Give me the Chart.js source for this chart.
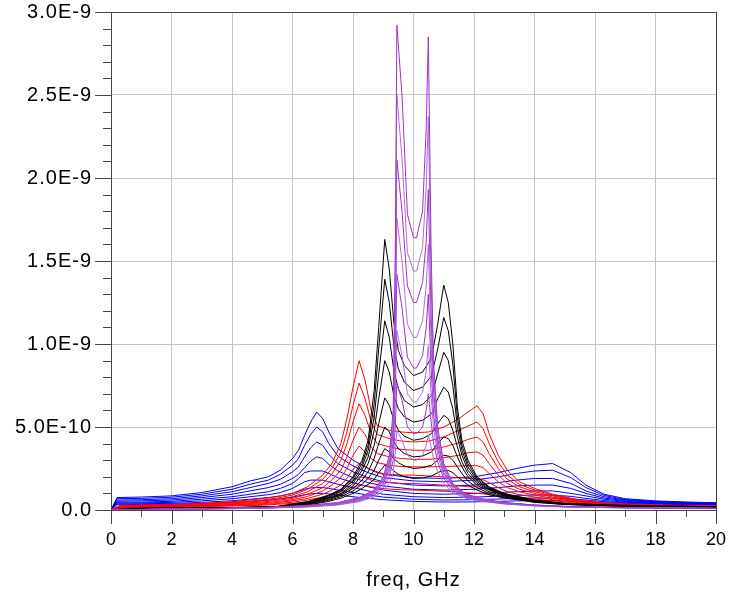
<!DOCTYPE html>
<html>
<head>
<meta charset="utf-8">
<script src="https://cdn.jsdelivr.net/npm/chart.js@4/dist/chart.umd.min.js"></script>
<style>
  html, body { margin: 0; padding: 0; background: #fff; }
</style>
</head>
<body>
<canvas id="chart" width="746" height="599"></canvas>
<script>
// values are in units of 1E-9
const xTickValues = [0, 2, 4, 6, 8, 10, 12, 14, 16, 18, 20];
const xTickLabels = ["0", "2", "4", "6", "8", "10", "12", "14", "16", "18", "20"];
const yTickValues = [0, 0.5, 1, 1.5, 2, 2.5, 3];
const yTickLabels = ["0.0", "5.0E-10", "1.0E-9", "1.5E-9", "2.0E-9", "2.5E-9", "3.0E-9"];
const xTitle = "freq, GHz";

// blue family (peaks near 6.8 and 14.6 GHz)
const blueFreq = [0, 0.2, 1, 2, 3, 4, 4.6, 5.2, 5.6, 6, 6.2, 6.4, 6.6, 6.8, 7.0, 7.2, 7.5, 8, 8.5, 9, 10, 11, 12, 12.8, 13.4, 14, 14.6, 15.2, 15.7, 16.3, 17, 18, 19, 20];
const blue = [
  [0, 0.075, 0.078, 0.085, 0.105, 0.14, 0.175, 0.2, 0.24, 0.31, 0.36, 0.45, 0.53, 0.59, 0.55, 0.47, 0.37, 0.30, 0.25, 0.215, 0.195, 0.19, 0.2, 0.225, 0.25, 0.27, 0.28, 0.225, 0.15, 0.095, 0.068, 0.055, 0.048, 0.044],
  [0, 0.068, 0.07, 0.077, 0.095, 0.125, 0.155, 0.18, 0.215, 0.27, 0.31, 0.39, 0.455, 0.50, 0.47, 0.40, 0.325, 0.265, 0.225, 0.195, 0.175, 0.17, 0.18, 0.2, 0.22, 0.235, 0.24, 0.195, 0.135, 0.088, 0.063, 0.052, 0.046, 0.042],
  [0, 0.06, 0.062, 0.068, 0.085, 0.11, 0.135, 0.16, 0.185, 0.23, 0.26, 0.32, 0.375, 0.41, 0.39, 0.335, 0.28, 0.23, 0.195, 0.17, 0.15, 0.145, 0.15, 0.165, 0.18, 0.19, 0.19, 0.16, 0.115, 0.08, 0.06, 0.05, 0.044, 0.04],
  [0, 0.053, 0.055, 0.06, 0.075, 0.095, 0.115, 0.135, 0.155, 0.19, 0.215, 0.255, 0.295, 0.32, 0.31, 0.275, 0.235, 0.195, 0.165, 0.145, 0.125, 0.12, 0.125, 0.135, 0.145, 0.15, 0.15, 0.13, 0.1, 0.072, 0.056, 0.047, 0.042, 0.039],
  [0, 0.047, 0.048, 0.052, 0.065, 0.08, 0.095, 0.11, 0.13, 0.16, 0.19, 0.225, 0.235, 0.235, 0.235, 0.22, 0.195, 0.165, 0.14, 0.12, 0.1, 0.095, 0.1, 0.105, 0.11, 0.115, 0.115, 0.1, 0.085, 0.065, 0.052, 0.044, 0.04, 0.037],
  [0, 0.042, 0.043, 0.046, 0.055, 0.068, 0.08, 0.092, 0.105, 0.13, 0.15, 0.17, 0.18, 0.18, 0.18, 0.17, 0.155, 0.135, 0.115, 0.095, 0.08, 0.075, 0.078, 0.083, 0.088, 0.09, 0.09, 0.082, 0.07, 0.057, 0.048, 0.041, 0.038, 0.035],
  [0, 0.037, 0.038, 0.04, 0.046, 0.056, 0.065, 0.075, 0.085, 0.1, 0.112, 0.125, 0.133, 0.135, 0.135, 0.13, 0.12, 0.105, 0.09, 0.078, 0.065, 0.06, 0.062, 0.066, 0.07, 0.072, 0.072, 0.067, 0.06, 0.05, 0.044, 0.038, 0.035, 0.033],
  [0, 0.032, 0.033, 0.035, 0.039, 0.046, 0.052, 0.06, 0.067, 0.077, 0.085, 0.092, 0.097, 0.1, 0.1, 0.097, 0.09, 0.08, 0.07, 0.062, 0.052, 0.048, 0.049, 0.052, 0.055, 0.057, 0.057, 0.054, 0.05, 0.044, 0.04, 0.035, 0.033, 0.031]
];

// red family (peaks near 8.2 and 12.1 GHz)
const redFreq = [0, 0.3, 1, 2, 3, 4, 5, 5.5, 6, 6.5, 7, 7.3, 7.6, 7.8, 8.0, 8.2, 8.4, 8.6, 8.8, 9.2, 9.6, 10, 10.5, 11, 11.5, 11.8, 12.1, 12.3, 12.5, 12.8, 13.1, 13.5, 14, 14.6, 15.5, 16.5, 18, 20];
const red = [
  [0, 0.028, 0.03, 0.033, 0.04, 0.05, 0.068, 0.08, 0.1, 0.14, 0.21, 0.28, 0.40, 0.55, 0.74, 0.90, 0.78, 0.60, 0.51, 0.48, 0.47, 0.465, 0.47, 0.5, 0.55, 0.59, 0.628, 0.58, 0.46, 0.33, 0.24, 0.17, 0.13, 0.095, 0.06, 0.04, 0.03, 0.025],
  [0, 0.025, 0.027, 0.03, 0.036, 0.045, 0.06, 0.072, 0.09, 0.125, 0.185, 0.25, 0.35, 0.47, 0.63, 0.765, 0.67, 0.53, 0.455, 0.43, 0.415, 0.41, 0.415, 0.44, 0.48, 0.505, 0.53, 0.49, 0.40, 0.29, 0.21, 0.155, 0.12, 0.09, 0.057, 0.038, 0.029, 0.024],
  [0, 0.022, 0.024, 0.027, 0.033, 0.041, 0.054, 0.065, 0.08, 0.11, 0.16, 0.215, 0.3, 0.4, 0.53, 0.64, 0.57, 0.46, 0.4, 0.38, 0.365, 0.36, 0.36, 0.38, 0.405, 0.425, 0.44, 0.41, 0.34, 0.25, 0.185, 0.14, 0.11, 0.085, 0.054, 0.036, 0.028, 0.023],
  [0, 0.02, 0.022, 0.025, 0.03, 0.037, 0.048, 0.058, 0.07, 0.095, 0.135, 0.18, 0.24, 0.32, 0.42, 0.50, 0.455, 0.38, 0.34, 0.32, 0.31, 0.305, 0.305, 0.315, 0.33, 0.345, 0.35, 0.33, 0.28, 0.21, 0.16, 0.125, 0.1, 0.078, 0.05, 0.034, 0.027, 0.022],
  [0, 0.018, 0.02, 0.023, 0.027, 0.033, 0.043, 0.051, 0.062, 0.082, 0.115, 0.15, 0.195, 0.25, 0.33, 0.385, 0.35, 0.31, 0.285, 0.27, 0.262, 0.26, 0.26, 0.262, 0.265, 0.267, 0.267, 0.255, 0.22, 0.17, 0.135, 0.11, 0.09, 0.07, 0.047, 0.032, 0.026, 0.021],
  [0, 0.016, 0.018, 0.021, 0.025, 0.03, 0.038, 0.045, 0.055, 0.07, 0.095, 0.12, 0.15, 0.19, 0.245, 0.28, 0.265, 0.24, 0.225, 0.215, 0.21, 0.21, 0.205, 0.2, 0.195, 0.19, 0.19, 0.182, 0.165, 0.135, 0.11, 0.092, 0.078, 0.062, 0.043, 0.03, 0.025, 0.02],
  [0, 0.014, 0.016, 0.019, 0.022, 0.027, 0.033, 0.039, 0.047, 0.06, 0.078, 0.095, 0.115, 0.145, 0.18, 0.2, 0.195, 0.18, 0.17, 0.165, 0.16, 0.16, 0.155, 0.15, 0.145, 0.14, 0.14, 0.135, 0.125, 0.105, 0.09, 0.077, 0.066, 0.055, 0.039, 0.028, 0.023, 0.019],
  [0, 0.012, 0.014, 0.017, 0.02, 0.024, 0.029, 0.034, 0.04, 0.05, 0.064, 0.076, 0.09, 0.11, 0.135, 0.15, 0.148, 0.14, 0.132, 0.126, 0.122, 0.12, 0.117, 0.113, 0.108, 0.104, 0.1, 0.098, 0.092, 0.08, 0.07, 0.062, 0.055, 0.047, 0.035, 0.026, 0.021, 0.018]
];

// black family (peaks near 9.0 and 11.0 GHz)
const blackFreq = [0, 0.6, 2, 4, 5.5, 6.5, 7.2, 7.6, 8, 8.3, 8.5, 8.7, 8.85, 9.05, 9.2, 9.35, 9.5, 9.7, 10, 10.3, 10.6, 10.8, 11.0, 11.15, 11.3, 11.45, 11.6, 11.8, 12.1, 12.5, 13, 14, 15, 16.5, 18, 20];
const black = [
  [0, 0.01, 0.012, 0.015, 0.022, 0.05, 0.09, 0.125, 0.2, 0.3, 0.42, 0.72, 1.1, 1.63, 1.45, 1.13, 0.96, 0.87, 0.81, 0.83, 0.92, 1.12, 1.355, 1.25, 1.0, 0.62, 0.42, 0.3, 0.2, 0.14, 0.1, 0.06, 0.04, 0.03, 0.025, 0.02],
  [0, 0.009, 0.011, 0.014, 0.021, 0.047, 0.085, 0.12, 0.19, 0.28, 0.39, 0.64, 0.97, 1.39, 1.25, 0.99, 0.85, 0.77, 0.72, 0.74, 0.81, 0.97, 1.16, 1.08, 0.88, 0.56, 0.39, 0.28, 0.19, 0.135, 0.097, 0.058, 0.039, 0.029, 0.024, 0.019],
  [0, 0.009, 0.011, 0.014, 0.02, 0.044, 0.08, 0.11, 0.175, 0.26, 0.36, 0.56, 0.82, 1.14, 1.04, 0.84, 0.73, 0.66, 0.62, 0.635, 0.69, 0.82, 0.95, 0.9, 0.75, 0.5, 0.36, 0.26, 0.18, 0.13, 0.094, 0.056, 0.038, 0.028, 0.023, 0.019],
  [0, 0.008, 0.01, 0.013, 0.019, 0.041, 0.075, 0.1, 0.16, 0.24, 0.32, 0.48, 0.67, 0.90, 0.83, 0.69, 0.61, 0.56, 0.53, 0.54, 0.58, 0.67, 0.74, 0.71, 0.61, 0.44, 0.33, 0.24, 0.17, 0.125, 0.09, 0.054, 0.037, 0.027, 0.022, 0.018],
  [0, 0.008, 0.01, 0.012, 0.018, 0.038, 0.07, 0.095, 0.145, 0.21, 0.28, 0.39, 0.52, 0.675, 0.63, 0.54, 0.48, 0.445, 0.42, 0.43, 0.46, 0.52, 0.57, 0.55, 0.48, 0.38, 0.29, 0.22, 0.16, 0.12, 0.087, 0.052, 0.036, 0.026, 0.021, 0.018],
  [0, 0.007, 0.009, 0.012, 0.017, 0.035, 0.064, 0.088, 0.13, 0.18, 0.23, 0.31, 0.4, 0.5, 0.47, 0.41, 0.37, 0.34, 0.32, 0.325, 0.35, 0.4, 0.44, 0.43, 0.39, 0.32, 0.26, 0.2, 0.15, 0.11, 0.083, 0.05, 0.035, 0.025, 0.021, 0.017],
  [0, 0.007, 0.009, 0.011, 0.016, 0.032, 0.058, 0.08, 0.115, 0.155, 0.19, 0.24, 0.3, 0.37, 0.35, 0.31, 0.285, 0.265, 0.25, 0.255, 0.27, 0.3, 0.33, 0.325, 0.3, 0.26, 0.22, 0.175, 0.135, 0.1, 0.078, 0.048, 0.034, 0.025, 0.02, 0.017],
  [0, 0.006, 0.008, 0.011, 0.015, 0.029, 0.052, 0.071, 0.1, 0.13, 0.155, 0.185, 0.225, 0.27, 0.26, 0.235, 0.215, 0.2, 0.19, 0.193, 0.205, 0.225, 0.24, 0.238, 0.225, 0.2, 0.18, 0.15, 0.12, 0.092, 0.073, 0.046, 0.033, 0.024, 0.02, 0.016]
];

// purple family (sharp peaks near 9.45 and 10.5 GHz)
const purpleFreq = [0, 1.5, 3, 5, 6.5, 7.5, 8.2, 8.7, 9.0, 9.2, 9.33, 9.4, 9.45, 9.62, 9.8, 10.0, 10.1, 10.3, 10.42, 10.49, 10.58, 10.66, 10.8, 11.0, 11.3, 11.7, 12.2, 13, 14, 15, 16.5, 18, 20];
const purple = [
  [0, 0.005, 0.008, 0.015, 0.028, 0.045, 0.075, 0.12, 0.2, 0.33, 0.6, 1.6, 2.92, 2.5, 1.78, 1.64, 1.64, 1.8, 2.3, 2.85, 1.6, 0.9, 0.5, 0.28, 0.16, 0.1, 0.07, 0.045, 0.03, 0.022, 0.016, 0.012, 0.01],
  [0, 0.005, 0.008, 0.014, 0.026, 0.043, 0.072, 0.115, 0.19, 0.31, 0.55, 1.4, 2.5, 2.12, 1.55, 1.44, 1.44, 1.58, 1.95, 2.37, 1.4, 0.82, 0.46, 0.27, 0.155, 0.097, 0.068, 0.044, 0.03, 0.022, 0.016, 0.012, 0.01],
  [0, 0.005, 0.007, 0.013, 0.025, 0.041, 0.069, 0.11, 0.18, 0.29, 0.5, 1.2, 2.11, 1.8, 1.35, 1.25, 1.25, 1.37, 1.62, 1.93, 1.2, 0.74, 0.43, 0.255, 0.15, 0.094, 0.066, 0.043, 0.029, 0.021, 0.016, 0.012, 0.01],
  [0, 0.004, 0.007, 0.012, 0.024, 0.039, 0.066, 0.105, 0.17, 0.27, 0.46, 1.05, 1.76, 1.5, 1.12, 1.04, 1.04, 1.14, 1.35, 1.6, 1.02, 0.66, 0.4, 0.24, 0.145, 0.091, 0.064, 0.042, 0.028, 0.021, 0.015, 0.011, 0.009],
  [0, 0.004, 0.007, 0.012, 0.023, 0.037, 0.063, 0.1, 0.16, 0.25, 0.41, 0.88, 1.42, 1.22, 0.92, 0.855, 0.855, 0.93, 1.1, 1.3, 0.86, 0.58, 0.37, 0.225, 0.14, 0.088, 0.062, 0.041, 0.028, 0.02, 0.015, 0.011, 0.009],
  [0, 0.004, 0.006, 0.011, 0.021, 0.035, 0.06, 0.095, 0.15, 0.23, 0.36, 0.7, 1.08, 0.93, 0.7, 0.65, 0.65, 0.71, 0.84, 0.99, 0.7, 0.5, 0.33, 0.21, 0.13, 0.085, 0.06, 0.04, 0.027, 0.02, 0.015, 0.011, 0.009],
  [0, 0.004, 0.006, 0.011, 0.02, 0.033, 0.056, 0.088, 0.135, 0.2, 0.3, 0.52, 0.76, 0.66, 0.5, 0.46, 0.46, 0.5, 0.6, 0.7, 0.54, 0.41, 0.29, 0.19, 0.12, 0.08, 0.057, 0.038, 0.026, 0.019, 0.014, 0.011, 0.009],
  [0, 0.003, 0.005, 0.01, 0.018, 0.03, 0.05, 0.078, 0.115, 0.16, 0.22, 0.35, 0.48, 0.42, 0.33, 0.3, 0.3, 0.33, 0.39, 0.45, 0.38, 0.31, 0.23, 0.16, 0.105, 0.073, 0.053, 0.036, 0.025, 0.018, 0.014, 0.01, 0.008]
];

const FONT = "'Liberation Sans', Arial, sans-serif";

function family(freq, rows, colors) {
  return rows.map((row, i) => ({
    data: row.map((v, j) => ({ x: freq[j], y: v })),
    borderColor: colors[i % colors.length],
    borderWidth: 1,
    pointRadius: 0,
    tension: 0,
    fill: false
  }));
}

// first dataset ends up on top
const datasets = [
  ...family(purpleFreq, purple, ["#9933cc", "#b36ae0"]),
  ...family(blackFreq, black, ["#000000"]),
  ...family(redFreq, red, ["#ff0000"]),
  ...family(blueFreq, blue, ["#0000ff"])
];

// ticks, tick labels, frame and axis title
const axisDecor = {
  id: "axisDecor",
  afterDraw(chart) {
    const { ctx, chartArea: a, scales: { x, y } } = chart;
    ctx.save();
    ctx.strokeStyle = "#484848";
    ctx.lineWidth = 1;
    ctx.beginPath();
    ctx.moveTo(a.left + 0.5, a.top);
    ctx.lineTo(a.left + 0.5, a.bottom + 1);
    ctx.moveTo(a.left, a.bottom + 0.5);
    ctx.lineTo(a.right + 1, a.bottom + 0.5);
    ctx.moveTo(a.left, a.top + 0.5);
    ctx.lineTo(a.right, a.top + 0.5);
    ctx.moveTo(a.right + 0.5, a.top);
    ctx.lineTo(a.right + 0.5, a.bottom);
    for (let v = 0; v <= 20; v++) {
      const px = Math.round(x.getPixelForValue(v)) + 0.5;
      ctx.moveTo(px, a.bottom);
      ctx.lineTo(px, a.bottom + (v % 2 === 0 ? 14 : 7));
    }
    for (let k = 0; k <= 30; k++) {
      const py = Math.round(y.getPixelForValue(k / 10)) + 0.5;
      ctx.moveTo(a.left, py);
      ctx.lineTo(a.left - (k % 5 === 0 ? 16 : 8), py);
    }
    ctx.stroke();

    ctx.fillStyle = "#000";
    ctx.font = "18px " + FONT;
    ctx.textAlign = "center";
    ctx.textBaseline = "middle";
    xTickValues.forEach((v, i) => {
      ctx.fillText(xTickLabels[i], x.getPixelForValue(v), 540);
    });
    ctx.font = "20px " + FONT;
    ctx.letterSpacing = "1px";
    ctx.textAlign = "right";
    yTickValues.forEach((v, i) => {
      ctx.fillText(yTickLabels[i], 92, y.getPixelForValue(v));
    });
    ctx.font = "20px " + FONT;
    ctx.letterSpacing = "1px";
    ctx.textAlign = "center";
    ctx.fillText(xTitle, (a.left + a.right) / 2, 580);
    ctx.restore();
  }
};

new Chart(document.getElementById("chart"), {
  type: "line",
  data: { datasets },
  plugins: [axisDecor],
  options: {
    responsive: false,
    animation: false,
    layout: { padding: { top: 12, right: 30, left: 0, bottom: 0 } },
    plugins: { legend: { display: false }, tooltip: { enabled: false } },
    scales: {
      x: {
        type: "linear",
        min: 0,
        max: 20,
        afterFit: (s) => { s.height = 89; },
        ticks: { stepSize: 2, display: false },
        grid: { color: "#c4c4c4", drawTicks: false },
        border: { display: false }
      },
      y: {
        type: "linear",
        min: 0,
        max: 3,
        afterFit: (s) => { s.width = 111; },
        ticks: { stepSize: 0.5, display: false },
        grid: { color: "#c4c4c4", drawTicks: false },
        border: { display: false }
      }
    }
  }
});
</script>
</body>
</html>
